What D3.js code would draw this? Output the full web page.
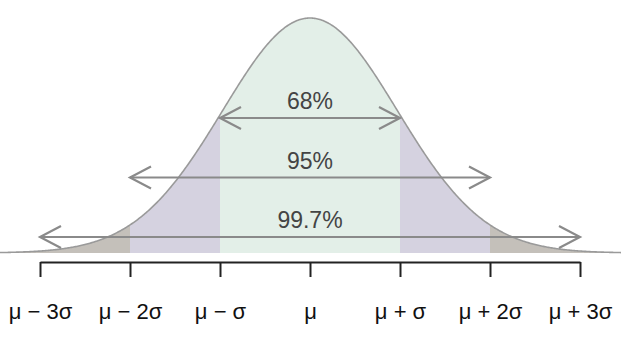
<!DOCTYPE html>
<html>
<head>
<meta charset="utf-8">
<script src="https://cdn.jsdelivr.net/npm/d3@7"></script>
<style>
  body { margin: 0; background: #fff; }
  svg { display: block; font-family: "Liberation Sans", Arial, sans-serif; }
</style>
</head>
<body>
<svg id="chart" width="621" height="338"></svg>
<script>
// sigma positions and their labels
const tickValues = [-3, -2, -1, 0, 1, 2, 3];
const tickLabels = ["μ − 3σ", "μ − 2σ", "μ − σ", "μ", "μ + σ", "μ + 2σ", "μ + 3σ"];

// shaded bands under the curve (in sigma units)
const bandStarts = [-3.6, -2, -1, 1, 2];
const bandEnds = [-2, -1, 1, 2, 3.6];
const bandColors = ["#c4c0ba", "#d5d2e0", "#e3efe8", "#d5d2e0", "#c4c0ba"];

// coverage arrows
const rangeLabels = ["68%", "95%", "99.7%"];
const rangeWidths = [1, 2, 3];

// drawn curve is a touch narrower than the tick spacing
const curveSd = 0.97;

const width = 621, height = 338;
const svg = d3.select("#chart");

const x = d3.scaleLinear().domain([-3, 3]).range([40, 580]);
const y = d3.scaleLinear().domain([0, 1]).range([253, 18]);
const arrowY = d3.scalePoint().domain(rangeLabels).range([118, 237]);

const dens = z => Math.exp(-0.5 * (z / curveSd) * (z / curveSd));
const zMin = x.invert(0), zMax = x.invert(width);
const pts = d3.range(0, 601).map(i => zMin + (zMax - zMin) * i / 600);

const area = d3.area()
  .x(d => x(d))
  .y0(y(0))
  .y1(d => y(dens(d)))
  .curve(d3.curveLinear);

bandStarts.forEach((s, i) => {
  const e = bandEnds[i];
  const seg = pts.filter(d => d > s && d < e);
  seg.unshift(Math.max(s, zMin));
  seg.push(Math.min(e, zMax));
  svg.append("path")
    .attr("d", area(seg))
    .attr("fill", bandColors[i]);
});

svg.append("path")
  .attr("d", d3.line().x(d => x(d)).y(d => y(dens(d)))(pts))
  .attr("fill", "none")
  .attr("stroke", "#9a9a9a")
  .attr("stroke-width", 1.6);

// arrows
const headLen = 21, headHalf = 11;
rangeLabels.forEach((lab, i) => {
  const yy = arrowY(lab);
  const x0 = x(-rangeWidths[i]), x1 = x(rangeWidths[i]);
  const g = svg.append("g")
    .attr("fill", "none")
    .attr("stroke", "#8a8a8a")
    .attr("stroke-width", 2.2);
  g.append("line").attr("x1", x0).attr("x2", x1).attr("y1", yy).attr("y2", yy);
  g.append("path").attr("d", `M${x0 + headLen},${yy - headHalf}L${x0},${yy}L${x0 + headLen},${yy + headHalf}`);
  g.append("path").attr("d", `M${x1 - headLen},${yy - headHalf}L${x1},${yy}L${x1 - headLen},${yy + headHalf}`);
  svg.append("text")
    .attr("x", x(0))
    .attr("y", yy - 9)
    .attr("text-anchor", "middle")
    .attr("fill", "#444")
    .attr("font-size", 23)
    .text(lab);
});

// axis
const axis = svg.append("g")
  .attr("transform", `translate(0,262)`)
  .call(d3.axisBottom(x)
    .tickValues(tickValues)
    .tickSize(15)
    .tickSizeOuter(0)
    .tickPadding(26)
    .tickFormat((d, i) => tickLabels[i]));

axis.select(".domain").attr("stroke", "#222").attr("stroke-width", 2);
axis.selectAll(".tick line").attr("stroke", "#222").attr("stroke-width", 2);
axis.selectAll(".tick text")
  .attr("fill", "#111")
  .attr("font-size", 22)
  .attr("font-family", "'Liberation Sans', Arial, sans-serif");
</script>
</body>
</html>
